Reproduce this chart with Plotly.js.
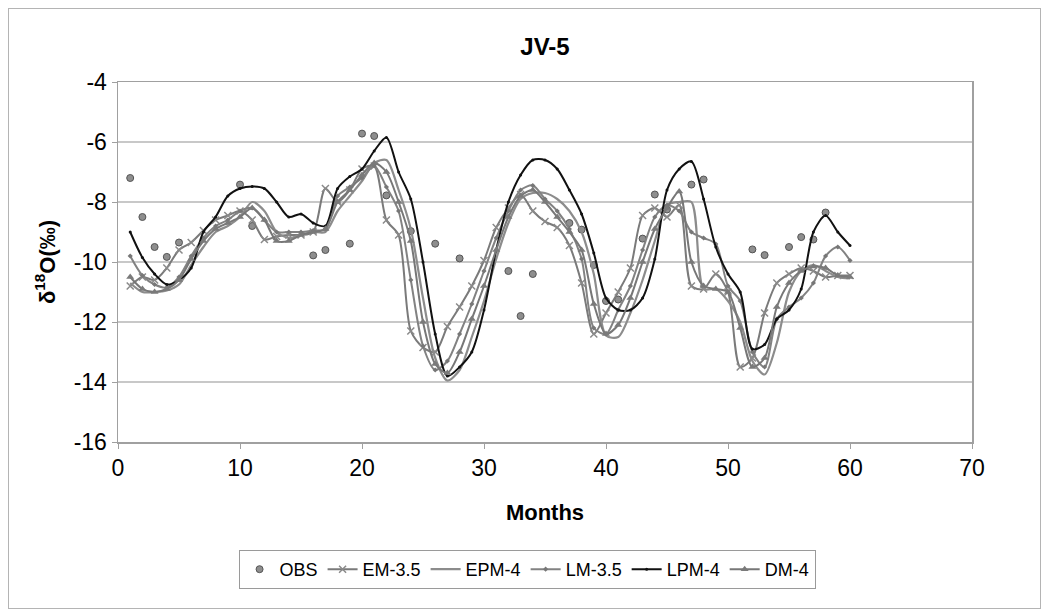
<!DOCTYPE html>
<html>
<head>
<meta charset="utf-8">
<script src="https://cdn.plot.ly/plotly-3.0.1.min.js"></script>
<style>
  html, body { margin: 0; padding: 0; background: #fff; }
  #wrap { position: relative; width: 1048px; height: 616px; }
  #chart { width: 1048px; height: 616px; }
  #frame { position: absolute; left: 8px; top: 8px; width: 1031px; height: 599px;
           border: 1px solid #b4b4b4; pointer-events: none; }
</style>
</head>
<body>
<div id="wrap"><div id="chart"></div><div id="frame"></div></div>
<script>
const months = [1,2,3,4,5,6,7,8,9,10,11,12,13,14,15,16,17,18,19,20,
  21,22,23,24,25,26,27,28,29,30,31,32,33,34,35,36,37,38,39,40,
  41,42,43,44,45,46,47,48,49,50,51,52,53,54,55,56,57,58,59,60];

const obsMonths = [1,2,3,4,5,10,11,16,17,19,20,21,22,24,26,28,32,33,34,37,38,39,40,41,43,44,45,47,48,52,53,55,56,57,58];
const obsValues = [-7.2,-8.5,-9.5,-9.83,-9.35,-7.42,-8.8,-9.78,-9.6,-9.39,-5.72,-5.8,-7.78,-8.97,-9.39,-9.88,-10.3,-11.8,-10.4,-8.7,-8.92,-10.1,-11.3,-11.25,-9.22,-7.75,-8.25,-7.42,-7.25,-9.58,-9.77,-9.5,-9.17,-9.25,-8.35];

const em35 = [-10.8,-10.5,-10.6,-10.2,-9.6,-9.35,-8.95,-8.6,-8.45,-8.3,-8.6,-9.25,-9.15,-9.1,-9.1,-9.0,-7.55,-8.0,-7.6,-6.9,-6.8,-8.6,-9.1,-12.3,-12.85,-13.0,-12.15,-11.5,-10.8,-9.95,
  -8.85,-8.2,-7.75,-8.3,-8.65,-8.85,-9.45,-10.7,-12.4,-11.7,-11.0,-10.2,-8.45,-8.2,-8.5,-8.1,-10.8,-10.9,-10.4,-11.0,-13.5,-13.2,-11.7,-10.7,-10.4,-10.2,-10.3,-10.5,-10.45,-10.45];

const epm4 = [-10.7,-11.0,-11.0,-10.95,-10.75,-10.1,-9.5,-9.0,-8.8,-8.5,-8.0,-8.3,-9.0,-9.2,-9.1,-9.0,-9.0,-8.3,-7.8,-7.3,-6.7,-6.6,-7.6,-8.9,-11.2,-13.2,-13.95,-13.6,-12.5,-11.3,
  -9.9,-8.7,-7.9,-7.7,-7.7,-7.9,-8.3,-9.0,-10.4,-12.45,-12.5,-11.7,-10.6,-9.3,-8.1,-8.0,-8.0,-10.9,-10.9,-11.3,-12.0,-13.3,-13.75,-12.7,-11.0,-10.3,-10.1,-10.3,-10.5,-10.55];

const lm35 = [-9.8,-10.45,-10.75,-10.85,-10.5,-9.8,-9.2,-8.8,-8.6,-8.3,-8.2,-8.6,-9.0,-9.0,-9.0,-8.95,-8.9,-7.8,-7.5,-7.2,-6.8,-7.5,-8.3,-10.6,-12.8,-13.6,-13.3,-12.4,-11.4,-10.3,
  -9.2,-8.3,-7.6,-7.45,-7.9,-8.3,-8.9,-9.9,-12.2,-12.4,-11.6,-10.8,-9.6,-8.5,-8.1,-8.3,-9.0,-9.2,-9.4,-10.8,-11.3,-13.0,-13.5,-11.9,-11.5,-11.2,-10.7,-9.8,-9.5,-9.95];

const lpm4 = [-9.0,-9.85,-10.4,-10.75,-10.6,-10.2,-9.0,-8.5,-7.8,-7.55,-7.48,-7.55,-8.0,-8.5,-8.4,-8.7,-8.8,-7.55,-7.15,-6.9,-6.3,-5.85,-7.0,-7.9,-10.0,-12.4,-13.8,-13.5,-13.0,-11.6,
  -9.6,-8.0,-7.1,-6.6,-6.6,-6.9,-7.6,-8.4,-9.7,-11.2,-11.6,-11.6,-11.2,-9.9,-7.6,-6.9,-6.65,-7.9,-9.5,-10.4,-11.0,-12.9,-12.75,-11.9,-11.6,-10.9,-9.0,-8.45,-9.0,-9.45];

const dm4 = [-10.5,-10.9,-11.0,-10.9,-10.6,-9.9,-9.3,-8.9,-8.7,-8.5,-8.2,-8.6,-9.3,-9.3,-9.1,-9.0,-8.9,-8.0,-7.6,-7.1,-6.7,-7.0,-8.0,-9.3,-12.0,-13.4,-13.7,-13.0,-11.9,-10.8,
  -9.6,-8.5,-7.8,-7.6,-8.0,-8.5,-9.0,-9.6,-11.4,-12.4,-12.1,-11.2,-10.0,-8.9,-8.2,-7.65,-10.0,-10.8,-10.9,-11.0,-12.2,-13.5,-13.2,-11.5,-10.7,-10.3,-10.15,-10.2,-10.45,-10.5];

const seriesNames = ['OBS','EM-3.5','EPM-4','LM-3.5','LPM-4','DM-4'];
const xTicks = [0,10,20,30,40,50,60,70];
const yTicks = [-16,-14,-12,-10,-8,-6,-4];

const FONT = 'Liberation Sans, Arial, sans-serif';
const spl = {shape: 'spline', smoothing: 0.8};

const traces = [
  { name: seriesNames[0], x: obsMonths, y: obsValues, mode: 'markers', type: 'scatter',
    marker: {symbol: 'circle', size: 7, color: '#8e8e8e', line: {color: '#555', width: 1}} },
  { name: seriesNames[1], x: months, y: em35, mode: 'lines+markers', type: 'scatter',
    line: Object.assign({color: '#7a7a7a', width: 2}, spl),
    marker: {symbol: 'x-thin', size: 7, line: {color: '#8a8a8a', width: 1.5}, color: '#8a8a8a'} },
  { name: seriesNames[2], x: months, y: epm4, mode: 'lines', type: 'scatter',
    line: Object.assign({color: '#8c8c8c', width: 2.2}, spl) },
  { name: seriesNames[3], x: months, y: lm35, mode: 'lines+markers', type: 'scatter',
    line: Object.assign({color: '#828282', width: 2}, spl),
    marker: {symbol: 'diamond', size: 4, color: '#777'} },
  { name: seriesNames[4], x: months, y: lpm4, mode: 'lines+markers', type: 'scatter',
    line: Object.assign({color: '#111', width: 2}, spl),
    marker: {symbol: 'circle', size: 3, color: '#111'} },
  { name: seriesNames[5], x: months, y: dm4, mode: 'lines+markers', type: 'scatter',
    line: Object.assign({color: '#777', width: 2}, spl),
    marker: {symbol: 'triangle-up', size: 7, color: '#7a7a7a'} }
];

const layout = {
  width: 1048, height: 616,
  paper_bgcolor: '#fff', plot_bgcolor: '#fff',
  margin: {l: 118, r: 76, t: 82, b: 174},
  font: {family: FONT, color: '#000', size: 22},
  title: {text: '<b>JV-5</b>', font: {family: FONT, size: 24, color: '#000'},
          x: 0.5, xref: 'paper', xanchor: 'center', y: 0.925, yref: 'container', yanchor: 'middle'},
  xaxis: {
    range: [0, 70], tickvals: xTicks, ticktext: xTicks.map(String),
    showgrid: false, zeroline: false, showline: true, linecolor: '#a0a0a0', linewidth: 1.5, mirror: true,
    ticks: 'outside', ticklen: 5, tickcolor: '#a0a0a0', tickfont: {size: 23, family: FONT},
    title: {text: '<b>Months</b>', font: {size: 22, family: FONT}, standoff: 24}
  },
  yaxis: {
    range: [-16, -4], tickvals: yTicks, ticktext: yTicks.map(String),
    showgrid: true, gridcolor: '#c8c8c8', gridwidth: 2, zeroline: false,
    showline: true, linecolor: '#a0a0a0', linewidth: 1.5, mirror: true,
    ticks: 'outside', ticklen: 5, tickcolor: '#a0a0a0', tickfont: {size: 23, family: FONT},
    title: {text: '<b>δ<sup>18</sup>O(‰)</b>', font: {size: 22, family: FONT}, standoff: 12}
  },
  showlegend: true,
  legend: {orientation: 'h', x: 0.479, xanchor: 'center', y: -0.3, yanchor: 'top',
           bordercolor: '#9a9a9a', borderwidth: 1, bgcolor: '#fff',
           font: {size: 18, family: FONT}, itemwidth: 30, tracegroupgap: 0}
};

Plotly.newPlot('chart', traces, layout, {displayModeBar: false, staticPlot: true});
</script>
</body>
</html>
